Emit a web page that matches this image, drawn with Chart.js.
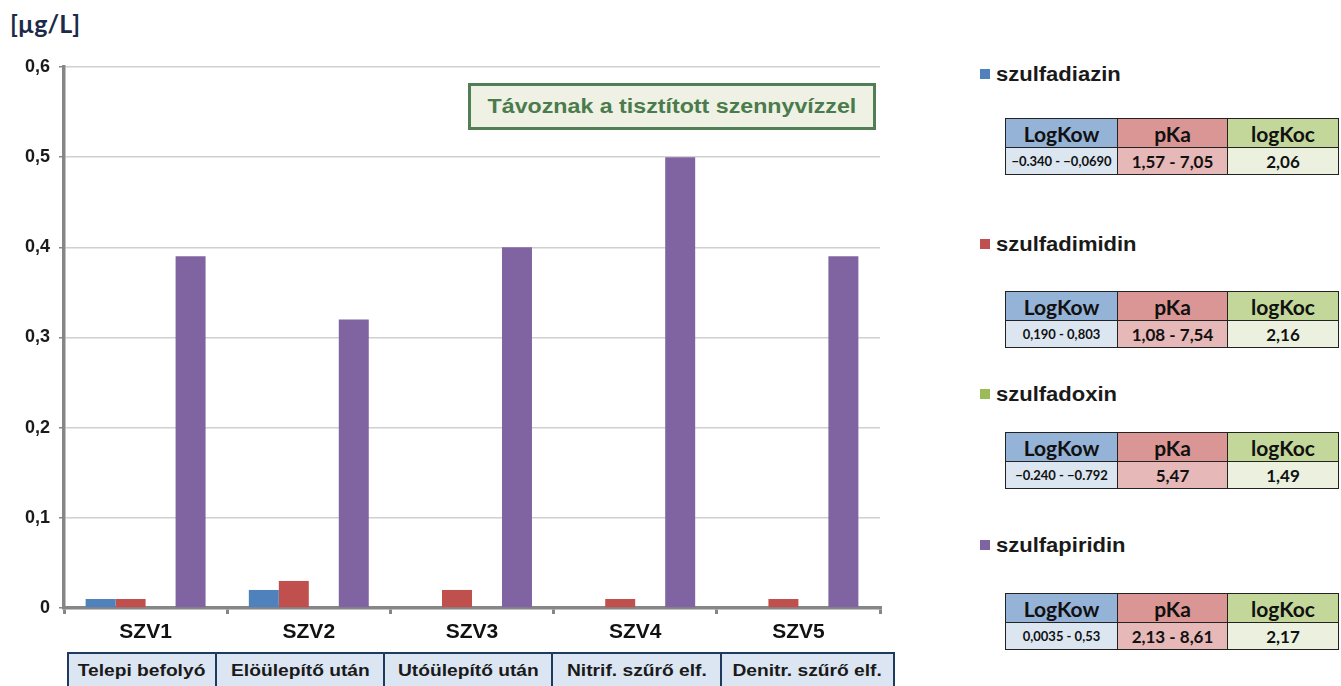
<!DOCTYPE html>
<html>
<head>
  <meta charset="utf-8">
  <title>Szulfonamidok a tisztított szennyvízben</title>
  <script src="https://cdn.jsdelivr.net/npm/chart.js"></script>
  <style>
    body {
      margin: 0;
      width: 1341px;
      height: 686px;
      background: #fff;
      font-family: "Liberation Sans", Arial, sans-serif;
      position: relative;
      overflow: hidden;
    }
    #unit {
      position: absolute;
      left: 10px;
      top: 8px;
      font-family: Lato, "Open Sans", sans-serif;
      font-weight: 700;
      font-size: 25px;
      color: #1c2a48;
    }
    #chart-wrap {
      position: absolute;
      left: 0;
      top: 0;
      width: 900px;
      height: 650px;
    }
    #title-box {
      position: absolute;
      left: 468px;
      top: 83px;
      width: 402px;
      height: 41px;
      border: 3px solid #4f7f52;
      background: #eef1e3;
      color: #4a7b4c;
      font-weight: 700;
      font-size: 20px;
      line-height: 41px;
      text-align: center;
    }
    .wide {
      display: inline-block;
      transform: scaleX(1.16);
    }
    #stages {
      position: absolute;
      left: 67px;
      top: 652px;
      border-collapse: collapse;
      table-layout: fixed;
    }
    #stages td {
      border: 2px solid #1f3a5f;
      background: #dce6f2;
      height: 34px;
      padding: 0;
      text-align: center;
      font-weight: 700;
      font-size: 17px;
      color: #1a1a1a;
      white-space: nowrap;
    }
    #stages td .wide { transform: scaleX(1.13); }
    .legend {
      position: absolute;
      left: 980px;
      font-weight: 700;
      font-size: 20px;
      color: #1a1a1a;
      line-height: 22px;
      white-space: nowrap;
    }
    .legend .wide { transform: scaleX(1.1); transform-origin: left center; }
    .legend span.sw {
      display: inline-block;
      width: 10px;
      height: 10px;
      margin-right: 6px;
      vertical-align: 2px;
    }
    .props {
      position: absolute;
      left: 1005px;
      border-collapse: collapse;
      table-layout: fixed;
      font-family: Lato, "Open Sans", sans-serif;
      font-weight: 700;
      color: #111;
    }
    .props td {
      border: 1.5px solid #222;
      text-align: center;
      padding: 0;
      white-space: nowrap;
    }
    .props tr.head td {
      height: 28px;
      font-size: 21px;
    }
    .props tr.vals td {
      height: 26px;
      font-size: 17px;
    }
    .props tr.vals td.kow {
      font-size: 13px;
    }
  </style>
</head>
<body>

  <div id="unit">[µg/L]</div>
  <div id="chart-wrap"><canvas id="chart" width="900" height="650"></canvas></div>
  <div id="title-box"><span class="wide">Távoznak a tisztított szennyvízzel</span></div>
  <table id="stages"><tr id="stage-row"></tr></table>
  <div id="side"></div>

  <script>
    // chart data
    const categories = ['SZV1', 'SZV2', 'SZV3', 'SZV4', 'SZV5'];
    const stages = ['Telepi befolyó', 'Elöülepítő után', 'Utóülepítő után', 'Nitrif. szűrő elf.', 'Denitr. szűrő elf.'];
    const seriesNames = ['szulfadiazin', 'szulfadimidin', 'szulfadoxin', 'szulfapiridin'];
    const szulfadiazin = [0.01, 0.02, 0, 0, 0];
    const szulfadimidin = [0.01, 0.03, 0.02, 0.01, 0.01];
    const szulfadoxin = [0, 0, 0, 0, 0];
    const szulfapiridin = [0.39, 0.32, 0.40, 0.50, 0.39];
    const yTicks = [0, 0.1, 0.2, 0.3, 0.4, 0.5, 0.6];

    // property tables
    const logKow = ['\u22120.340 - \u22120,0690', '0,190 - 0,803', '\u22120.240 - \u22120.792', '0,0035 - 0,53'];
    const pKa = ['1,57 - 7,05', '1,08 - 7,54', '5,47', '2,13 - 8,61'];
    const logKoc = ['2,06', '2,16', '1,49', '2,17'];

    const colors = ['#4f81bd', '#c0504d', '#9bbb59', '#8064a2'];
    const allSeries = [szulfadiazin, szulfadimidin, szulfadoxin, szulfapiridin];

    // stage boxes under the x axis
    const stageWidths = [146, 166, 166, 167, 171];
    const row = document.getElementById('stage-row');
    stages.forEach((s, i) => {
      const td = document.createElement('td');
      td.innerHTML = '<span class="wide">' + s + '</span>';
      td.style.width = stageWidths[i] + 'px';
      row.appendChild(td);
    });

    // legend + tables on the right
    const legendTops = [63, 233, 383, 534];
    const tableTops = [118, 291, 432, 593];
    const side = document.getElementById('side');
    seriesNames.forEach((name, i) => {
      const lg = document.createElement('div');
      lg.className = 'legend';
      lg.style.top = legendTops[i] + 'px';
      lg.innerHTML = '<span class="sw" style="background:' + colors[i] + '"></span><span class="wide">' + name + '</span>';
      side.appendChild(lg);

      const t = document.createElement('table');
      t.className = 'props';
      t.style.top = tableTops[i] + 'px';
      t.innerHTML =
        '<tr class="head">' +
          '<td style="width:111px;background:#95b3d7">LogKow</td>' +
          '<td style="width:109px;background:#da9694">pKa</td>' +
          '<td style="width:110px;background:#c4d79b">logKoc</td>' +
        '</tr>' +
        '<tr class="vals">' +
          '<td class="kow" style="background:#dce6f1">' + logKow[i] + '</td>' +
          '<td style="background:#e6b8b7">' + pKa[i] + '</td>' +
          '<td style="background:#ebf1de">' + logKoc[i] + '</td>' +
        '</tr>';
      side.appendChild(t);
    });

    const ctx = document.getElementById('chart').getContext('2d');
    new Chart(ctx, {
      type: 'bar',
      data: {
        labels: categories,
        datasets: seriesNames.map((name, i) => ({
          label: name,
          data: allSeries[i],
          backgroundColor: colors[i],
          borderWidth: 0,
          categoryPercentage: 0.735,
          barPercentage: 1
        }))
      },
      options: {
        responsive: false,
        animation: false,
        devicePixelRatio: 1,
        layout: { padding: { top: 67, right: 20, bottom: 0, left: 0 } },
        plugins: {
          legend: { display: false },
          tooltip: { enabled: false }
        },
        scales: {
          y: {
            min: 0,
            max: 0.6,
            afterBuildTicks: (s) => { s.ticks = yTicks.map(v => ({ value: v })); },
            afterFit: (s) => { s.width = 64; },
            ticks: {
              color: '#1a1a1a',
              font: { family: 'Liberation Sans', size: 18, weight: 'bold' },
              padding: 9,
              callback: (v) => v === 0 ? '0' : v.toFixed(1).replace('.', ',')
            },
            grid: {
              color: '#d0d0d0',
              lineWidth: 1.5,
              tickColor: '#868686',
              tickLength: 5
            },
            border: { color: '#868686', width: 3.5 }
          },
          x: {
            afterFit: (s) => { s.height = 42; },
            ticks: {
              color: '#111',
              maxRotation: 0,
              autoSkip: false,
              font: { family: 'Liberation Sans', size: 21, weight: 'bold' },
              padding: 6
            },
            grid: {
              offset: true,
              drawOnChartArea: false,
              tickColor: '#868686',
              tickLength: 6,
              lineWidth: 3
            },
            border: { color: '#868686', width: 3.5 }
          }
        }
      }
    });
  </script>

</body>
</html>
